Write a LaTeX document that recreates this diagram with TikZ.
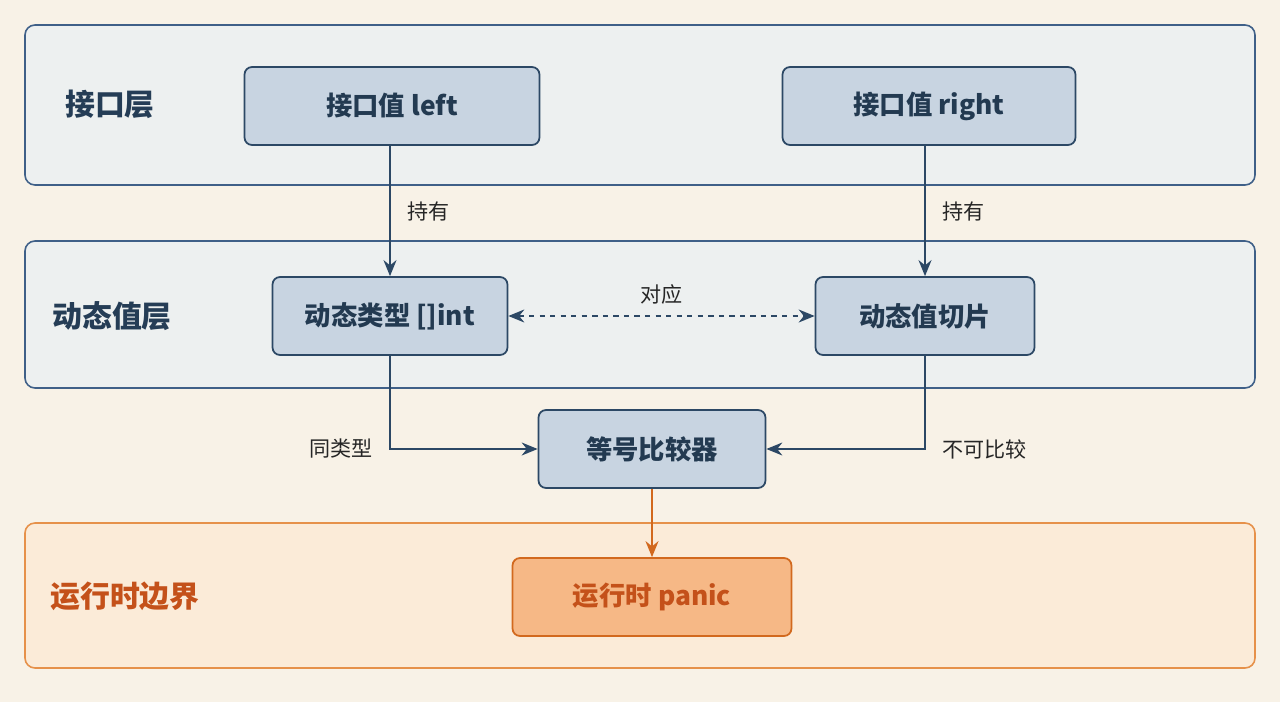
\documentclass[tikz,border=0pt]{standalone}
\usepackage{fontspec}
\setmainfont{Noto Sans CJK SC}
\usetikzlibrary{arrows.meta,positioning}
\definecolor{bgcream}{HTML}{F8F2E7}
\definecolor{layerfill}{HTML}{EDF0F0}
\definecolor{layerline}{HTML}{3F6088}
\definecolor{boxfill}{HTML}{C8D4E1}
\definecolor{boxline}{HTML}{2C4865}
\definecolor{runfill}{HTML}{FBEBD8}
\definecolor{runline}{HTML}{E6914A}
\definecolor{panicfill}{HTML}{F6B886}
\definecolor{panicline}{HTML}{D2691E}
\definecolor{runtext}{HTML}{C4511A}
\begin{document}
\begin{tikzpicture}[
    x=0.02cm, y=-0.02cm,
    >={Stealth[length=3.2mm,width=2.6mm]},
    layer/.style={
		draw=layerline,
		line width=0.9pt,
		rounded corners=2mm,
		fill=layerfill
	},
	order/.style={
		rectangle,
		rounded corners=1.5mm,
		draw=boxline,
		line width=1pt,
		fill=boxfill,
		text=boxline!80!black,
		font=\fontsize{15}{18}\selectfont\bfseries,
		minimum height=1.56cm
	},
	title/.style={
		font=\fontsize{17}{20}\selectfont\bfseries,
		text=boxline!85!black
	},
	label/.style={
		font=\fontsize{12}{14}\selectfont,
		text=black!85
	},
	link/.style={
		draw=boxline,
		line width=1pt,
		->
	}
  ]
  % background and layers
  \fill[bgcream] (0,0) rectangle (1280,702);
  \draw[layer] (25,25) rectangle (1255,185);
  \draw[layer] (25,241) rectangle (1255,388);
  \draw[layer, draw=runline, fill=runfill] (25,523) rectangle (1255,668);

  \node[title] (tiface) at (110,104) {接口层};
  \node[title] (tdyn) at (112,316) {动态值层};
  \node[title, text=runtext] (trun) at (125,596) {运行时边界};

  % the blocks
  \node[order, minimum width=5.9cm] (left) at (392,106) {接口值 left};
  \node[order, minimum width=5.86cm] (right) at (929,106) {接口值 right};
  \node[order, minimum width=4.7cm] (dtype) at (390,316) {动态类型 []int};
  \node[order, minimum width=4.38cm] (dval) at (925,316) {动态值切片};
  \node[order, minimum width=4.54cm] (cmp) at (652,449) {等号比较器};
  \node[order, minimum width=5.58cm, fill=panicfill, draw=panicline, text=runtext] (panic) at (652,597) {运行时 panic};

  % connectors
  \draw[link] (left.south -| dtype.north) -- node[label, right=6pt] {持有} (dtype.north);
  \draw[link] (right.south -| dval.north) -- node[label, right=6pt] {持有} (dval.north);
  \draw[link, <->, dashed] (dtype) -- node[label, above=3pt] {对应} (dval);
  \draw[link] (dtype.south) |- node[label, pos=0.5, left=6pt] {同类型} (cmp.west);
  \draw[link] (dval.south) |- node[label, pos=0.5, right=6pt] {不可比较} (cmp.east);
  \draw[link, draw=panicline] (cmp) -- (panic);
\end{tikzpicture}
\end{document}
